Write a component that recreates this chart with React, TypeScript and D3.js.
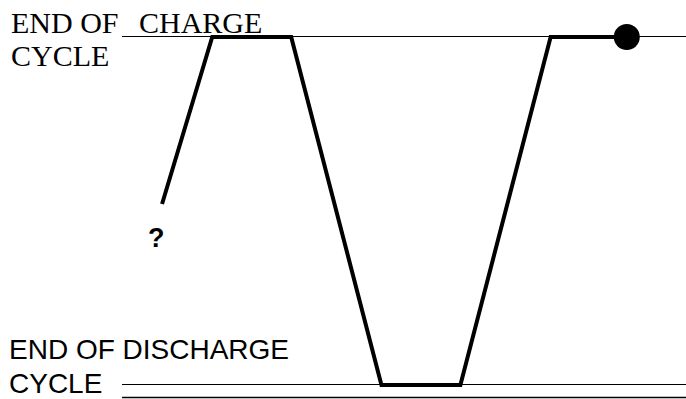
import React from 'react';
import * as d3 from 'd3';

// time (arbitrary units) and state of charge (0 = discharged, 1 = charged)
const cycleTime = [7.1, 16, 30, 46, 60, 76, 89.5];
const chargeLevel = [0.52, 1, 1, 0, 0, 1, 1];
const topLabel = ['END OF', 'CHARGE', 'CYCLE'];
const bottomLabel = ['END OF DISCHARGE', 'CYCLE'];
const unknownMark = '?';

const width = 686;
const height = 399;

export default function App() {
  const x = d3.scaleLinear().domain([0, 100]).range([122, 686]);
  const y = d3.scaleLinear().domain([0, 1]).range([385, 37]);

  const points: [number, number][] = cycleTime.map((t, i) => [t, chargeLevel[i]]);
  const line = d3.line<[number, number]>()
    .x(d => x(d[0]))
    .y(d => y(d[1]));

  const last = points[points.length - 1];

  return (
    <svg
      width={width}
      height={height}
      style={{ position: 'absolute', left: 0, top: 0, background: '#fff' }}
    >
      {/* reference levels */}
      <line x1={x(0)} x2={width} y1={y(1) - 0.5} y2={y(1) - 0.5} stroke="#000" strokeWidth={1} />
      <line x1={x(0)} x2={width} y1={y(0) - 0.5} y2={y(0) - 0.5} stroke="#000" strokeWidth={1.2} />
      <line x1={x(0)} x2={width} y1={397.5} y2={397.5} stroke="#000" strokeWidth={1.5} />

      <path d={line(points) ?? ''} fill="none" stroke="#000" strokeWidth={4} strokeLinejoin="miter" />
      <circle cx={x(last[0])} cy={y(last[1])} r={13} fill="#000" />

      <text x={148} y={247} fontFamily="Liberation Sans, Arial, sans-serif" fontWeight="bold" fontSize={27}>
        {unknownMark}
      </text>

      <g fontFamily="Liberation Serif, Times New Roman, serif" fontSize={30} fill="#000">
        <text x={11} y={33}>{topLabel[0]}</text>
        <text x={139} y={33}>{topLabel[1]}</text>
        <text x={11} y={66}>{topLabel[2]}</text>
      </g>

      <g fontFamily="Liberation Sans, Arial, sans-serif" fontSize={28} fill="#000">
        <text x={9} y={359.3}>{bottomLabel[0]}</text>
        <text x={9} y={392.5}>{bottomLabel[1]}</text>
      </g>
    </svg>
  );
}
